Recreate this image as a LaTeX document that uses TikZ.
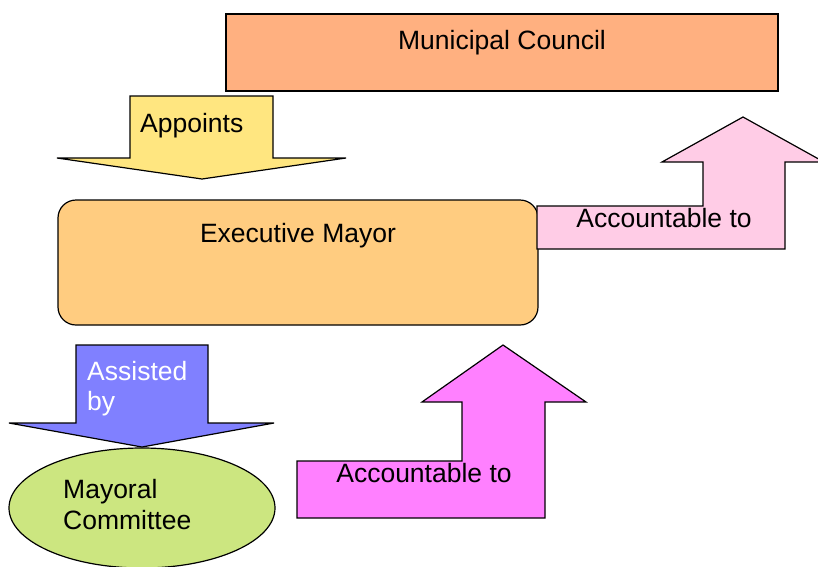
\documentclass[tikz,border=0pt]{standalone}
\usepackage{fontspec}
\setmainfont{Liberation Sans}
\usepackage{tikz}

\definecolor{councilfill}{RGB}{255,176,128}
\definecolor{appointfill}{RGB}{255,230,128}
\definecolor{mayorfill}{RGB}{255,204,128}
\definecolor{upperfill}{RGB}{255,204,230}
\definecolor{lowerfill}{RGB}{255,128,255}
\definecolor{assistfill}{RGB}{128,128,255}
\definecolor{committeefill}{RGB}{204,230,128}

\tikzset{
	outline/.style={draw=black, line width=1.2pt, line join=miter},
	lbl/.style={inner sep=0pt, font=\fontsize{26.5}{31}\selectfont}
}

\begin{document}
\begin{tikzpicture}[x=1pt, y=-1pt]
	\useasboundingbox[fill=white] (0,0) rectangle (818,566);
	% council on top
	\filldraw[outline, fill=councilfill] (226,14) rectangle (778,91);
	\node[lbl, anchor=base] (council) at (502,49) {Municipal Council};
	% appoints arrow
	\filldraw[outline, fill=appointfill]
	(130,96) -- (273,96) -- (273,158) -- (346,158) -- (202,179)
	-- (57,158) -- (130,158) -- cycle;
	\node[lbl, anchor=base west] (appoints) at (140,132) {Appoints};
	% mayor
	\filldraw[outline, fill=mayorfill, rounded corners=18pt]
	(58,200) rectangle (538,325);
	\node[lbl, anchor=base] (mayor) at (298,242) {Executive Mayor};
	% accountable to council
	\filldraw[outline, fill=upperfill]
	(537,206) -- (703,206) -- (703,162) -- (662,162) -- (743,117)
	-- (824,162) -- (785,162) -- (785,249) -- (537,249) -- cycle;
	\node[lbl, anchor=base] (upper) at (664,227) {Accountable to};
	% committee
	\filldraw[outline, fill=committeefill] (142,508) ellipse [x radius=133, y radius=60];
	\node[lbl, anchor=base west] (committee1) at (63,498) {Mayoral};
	\node[lbl, anchor=base west] (committee2) at (63,529) {Committee};
	% assisted by arrow
	\filldraw[outline, fill=assistfill]
	(76,345) -- (208,345) -- (208,423) -- (274,423) -- (142,447)
	-- (9,423) -- (76,423) -- cycle;
	\node[lbl, anchor=base west, text=white] (assisted1) at (87,380) {Assisted};
	\node[lbl, anchor=base west, text=white] (assisted2) at (87,410) {by};
	% accountable to mayor
	\filldraw[outline, fill=lowerfill]
	(297,461) -- (462,461) -- (462,402) -- (422,402) -- (503,345)
	-- (586,402) -- (545,402) -- (545,518) -- (297,518) -- cycle;
	\node[lbl, anchor=base] (lower) at (424,482) {Accountable to};
\end{tikzpicture}
\end{document}
